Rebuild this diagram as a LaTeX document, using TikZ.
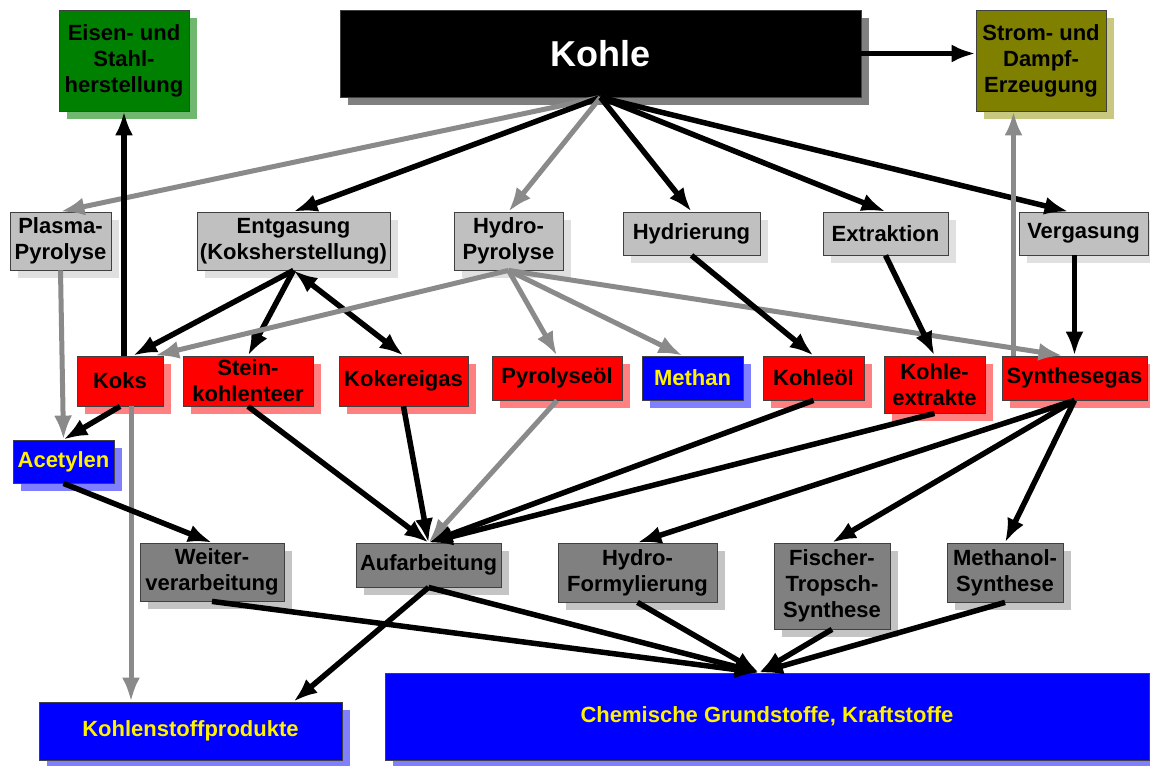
\documentclass[tikz,border=0pt]{standalone}
\usepackage{fontspec}
\setmainfont{Liberation Sans}
\usepackage{xcolor}
\usepackage{tikz}
\usetikzlibrary{arrows.meta,shadows}

\definecolor{hellgrau}{HTML}{C0C0C0}
\definecolor{hellgrauS}{HTML}{E0E0E0}
\definecolor{dunkelgrau}{HTML}{808080}
\definecolor{dunkelgrauS}{HTML}{C4C4C4}
\definecolor{rotS}{HTML}{FF8080}
\definecolor{blauS}{HTML}{8080FF}
\definecolor{gruen}{HTML}{008000}
\definecolor{gruenS}{HTML}{70B870}
\definecolor{oliv}{HTML}{808000}
\definecolor{olivS}{HTML}{C8C880}
\definecolor{pfeilgrau}{HTML}{8A8A8A}

\begin{document}
\begin{tikzpicture}[x=1pt, y=-1pt, >={Latex[length=24pt,width=18pt]},
    kasten/.style={draw=black!75, line width=0.8pt, inner sep=0pt, align=center,
        font=\bfseries\fontsize{22}{26}\selectfont},
    hgrau/.style={kasten, fill=hellgrau, general shadow={fill=hellgrauS, shadow xshift=8pt, shadow yshift=-8pt}},
    dgrau/.style={kasten, fill=dunkelgrau, general shadow={fill=dunkelgrauS, shadow xshift=8pt, shadow yshift=-8pt}},
    rot/.style={kasten, fill=red, general shadow={fill=rotS, shadow xshift=8pt, shadow yshift=-8pt}},
    blau/.style={kasten, fill=blue, text=yellow, general shadow={fill=blauS, shadow xshift=8pt, shadow yshift=-8pt}},
    pfeil/.style={->, line width=5.5pt},
    gpfeil/.style={->, line width=5pt, draw=pfeilgrau, fill=pfeilgrau},
]
\useasboundingbox (0,0) rectangle (1150,765);

% oben
\node[kasten, fill=gruen, general shadow={fill=gruenS, shadow xshift=8pt, shadow yshift=-8pt},
    minimum width=130, minimum height=101] (eisen) at (124,60.5) {Eisen- und\\Stahl-\\herstellung};
\node[kasten, fill=black, text=white, font=\bfseries\fontsize{36}{40}\selectfont,
    general shadow={fill=dunkelgrau, shadow xshift=8pt, shadow yshift=-8pt},
    minimum width=521, minimum height=87] (kohle) at (600.5,53.5) {Kohle};
\node[kasten, fill=oliv, general shadow={fill=olivS, shadow xshift=8pt, shadow yshift=-8pt},
    minimum width=130, minimum height=101] (strom) at (1041,60.5) {Strom- und\\Dampf-\\Erzeugung};

% Verfahren
\node[hgrau, minimum width=101, minimum height=58] (plasma) at (60.5,241) {Plasma-\\Pyrolyse};
\node[hgrau, minimum width=193, minimum height=58] (entgasung) at (293.5,241) {Entgasung\\(Koksherstellung)};
\node[hgrau, minimum width=109, minimum height=58] (hydropyr) at (508.5,241) {Hydro-\\Pyrolyse};
\node[hgrau, minimum width=137, minimum height=43] (hydrierung) at (691.5,233.5) {Hydrierung};
\node[hgrau, minimum width=125, minimum height=43] (extraktion) at (885.5,233.5) {Extraktion};
\node[hgrau, minimum width=129, minimum height=43] (vergasung) at (1083.5,233.5) {Vergasung};

% Zwischenprodukte
\node[rot, minimum width=86, minimum height=50] (koks) at (120,381) {Koks};
\node[rot, minimum width=130, minimum height=50] (steinkohlenteer) at (248,381) {Stein-\\kohlenteer};
\node[rot, minimum width=129, minimum height=50] (kokereigas) at (403.5,381) {Kokereigas};
\node[rot, minimum width=130, minimum height=44] (pyrolyseoel) at (557,378) {Pyrolyseöl};
\node[blau, minimum width=101, minimum height=44] (methan) at (692.5,378) {Methan};
\node[rot, minimum width=101, minimum height=44] (kohleoel) at (813.5,378) {Kohleöl};
\node[rot, minimum width=101, minimum height=57] (extrakte) at (934.5,384.5) {Kohle-\\extrakte};
\node[rot, minimum width=145, minimum height=44] (synthesegas) at (1074.5,378) {Synthesegas};
\node[blau, minimum width=101, minimum height=43] (acetylen) at (63.5,461.5) {Acetylen};

% Weiterverarbeitung
\node[dgrau, minimum width=144, minimum height=58] (weiter) at (212,572) {Weiter-\\verarbeitung};
\node[dgrau, minimum width=145, minimum height=44] (aufarbeitung) at (428.5,565) {Aufarbeitung};
\node[dgrau, minimum width=159, minimum height=59] (hydroform) at (637.5,572.5) {Hydro-\\Formylierung};
\node[dgrau, minimum width=116, minimum height=86] (fischer) at (832,586) {Fischer-\\Tropsch-\\Synthese};
\node[dgrau, minimum width=116, minimum height=59] (methanol) at (1005,572.5) {Methanol-\\Synthese};

% Endprodukte
\node[blau, minimum width=303, minimum height=58] (kprod) at (190.5,731) {Kohlenstoffprodukte};
\node[blau, minimum width=764, minimum height=87] (chemie) at (767,716.5) {Chemische Grundstoffe, Kraftstoffe};

% Pfeile von Kohle
\draw[gpfeil] (kohle.south) -- (plasma.north);
\draw[pfeil] (kohle.south) -- (entgasung.north);
\draw[gpfeil] (kohle.south) -- (hydropyr.north);
\draw[pfeil] (kohle.south) -- (hydrierung.north);
\draw[pfeil] (kohle.south) -- (extraktion.north);
\draw[pfeil] (kohle.south) -- ([xshift=-15]vergasung.north);
\draw[pfeil] (kohle.east) -- (kohle.east -| strom.west);

% Verfahren -> Produkte
\draw[pfeil] (entgasung.south) -- ([xshift=13]koks.north);
\draw[pfeil] (entgasung.south) -- (steinkohlenteer.north);
\draw[pfeil, <->] (entgasung.south) -- (kokereigas.north);
\draw[gpfeil] (hydropyr.south) -- ([xshift=35]koks.north);
\draw[gpfeil] (hydropyr.south) -- (pyrolyseoel.north);
\draw[gpfeil] (hydropyr.south) -- ([xshift=-10]methan.north);
\draw[gpfeil] (hydropyr.south) -- ([xshift=-12]synthesegas.north);
\draw[pfeil] (hydrierung.south) -- (kohleoel.north);
\draw[pfeil] (extraktion.south) -- (extrakte.north);
\draw[pfeil] (vergasung.south -| synthesegas.north) -- (synthesegas.north);
\draw[gpfeil] ([xshift=-61]synthesegas.north) -- ([xshift=-61]synthesegas.north |- strom.south);
\draw[pfeil] (koks.north -| eisen.south) -- (eisen.south);

% Koks, Acetylen
\draw[gpfeil] (plasma.south) -- (acetylen.north);
\draw[pfeil] (koks.south) -- (acetylen.north);
\draw[gpfeil] ([xshift=11]koks.south) -- ([xshift=11]koks.south |- kprod.north);
\draw[pfeil] (acetylen.south) -- (weiter.north);

% zur Aufarbeitung
\draw[pfeil] (steinkohlenteer.south) -- (aufarbeitung.north);
\draw[pfeil] (kokereigas.south) -- (aufarbeitung.north);
\draw[gpfeil] (pyrolyseoel.south) -- (aufarbeitung.north);
\draw[pfeil] (kohleoel.south) -- (aufarbeitung.north);
\draw[pfeil] (extrakte.south) -- (aufarbeitung.north);

% Synthesegas
\draw[pfeil] (synthesegas.south) -- (hydroform.north);
\draw[pfeil] (synthesegas.south) -- (fischer.north);
\draw[pfeil] (synthesegas.south) -- (methanol.north);

% Endprodukte
\coordinate (ziel) at ([xshift=-8]chemie.north);
\draw[pfeil] (weiter.south) -- (ziel);
\draw[pfeil] (aufarbeitung.south) -- (ziel);
\draw[pfeil] (aufarbeitung.south) -- ([xshift=103]kprod.north);
\draw[pfeil] (hydroform.south) -- (ziel);
\draw[pfeil] (fischer.south) -- (ziel);
\draw[pfeil] (methanol.south) -- (ziel);
\end{tikzpicture}
\end{document}
